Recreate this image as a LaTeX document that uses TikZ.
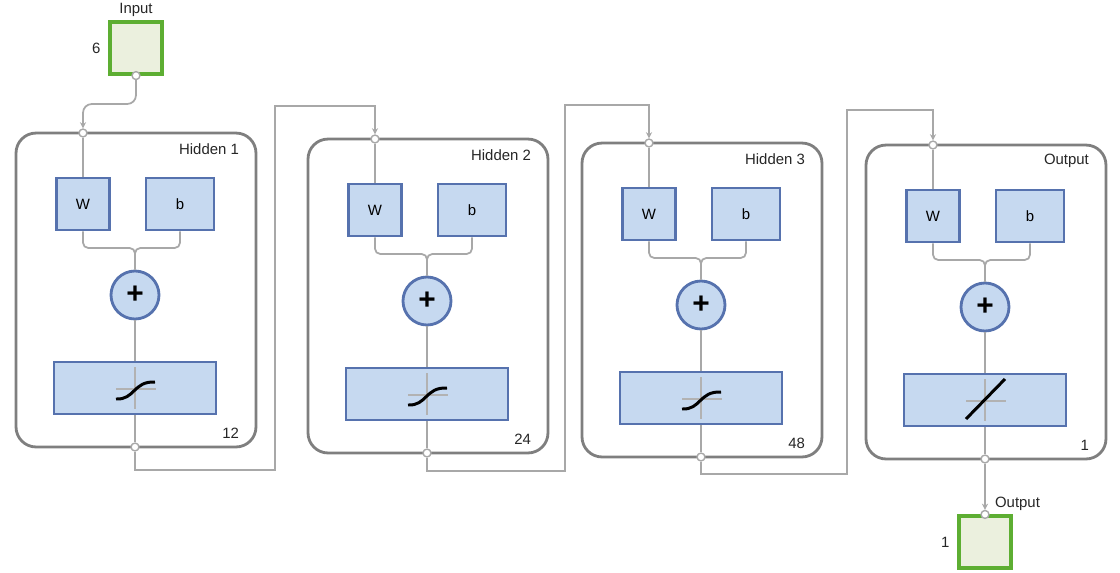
\documentclass[tikz,border=0pt]{standalone}
\usepackage{fontspec}
\setmainfont{Liberation Sans}
\usetikzlibrary{arrows.meta, positioning}

\definecolor{wiregray}{HTML}{A8A8A8}
\definecolor{framegray}{HTML}{7F7F7F}
\definecolor{blockfill}{HTML}{C6D9F0}
\definecolor{blockdraw}{HTML}{5672AE}
\definecolor{iofill}{HTML}{EBF0DE}
\definecolor{iodraw}{HTML}{5DAE32}

\begin{document}
\begin{tikzpicture}[
        x = 0.02cm, y = -0.02cm,
        font = \fontsize{8.5}{10}\selectfont,
        >= {Stealth[length = 3.5pt, width = 3.5pt]},
        layer/.style = {draw = framegray, line width = 1.6pt, fill = white, rounded corners = 0.4cm,
            minimum width = 4.8cm, minimum height = 6.28cm},
        block/.style = {draw = blockdraw, line width = 1.6pt, fill = blockfill, minimum height = 1.04cm},
        sum/.style = {circle, draw = blockdraw, line width = 1.6pt, fill = blockfill, minimum size = 0.96cm,
            inner sep = 0pt, font = \fontsize{17}{17}\selectfont\bfseries},
        io/.style = {draw = iodraw, line width = 1.8pt, fill = iofill, minimum size = 1.04cm},
        wire/.style = {draw = wiregray, line width = 1pt, rounded corners = 3pt},
        link/.style = {draw = wiregray, line width = 1pt},
        port/.style = {circle, draw = wiregray, fill = white, line width = 0.8pt, minimum size = 4.5pt, inner sep = 0pt},
        tag/.style = {inner sep = 1pt, text = black!85}
    ]
    \useasboundingbox (0,0) rectangle (1120,572);

    % input and output boxes
    \node[io] (in) at (136, 48) {};
    \node[tag, above = 0.03cm of in] (in-name) {Input};
    \node[tag, left = 0.12cm of in] (in-size) {6};
    \node[port] (in-port) at (in.south) {};

    \node[io] (out) at (985, 542) {};
    \node[tag, anchor = south west] (out-name) at (993, 513) {Output};
    \node[tag, left = 0.12cm of out] (out-size) {1};
    \node[port] (out-port) at (out.north) {};

    % the four layers
    \foreach \i/\xl/\yt/\name/\num in {1/16/133/Hidden 1/12, 2/308/139/Hidden 2/24,
                                        3/582/143/Hidden 3/48, 4/866/145/Output/1} {
      \node[layer] (L\i) at (\xl+120, \yt+157) {};
      \node[tag, anchor = east] (name\i) at (\xl+225, \yt+16) {\name};
      \node[tag, anchor = east] (num\i) at (\xl+225, \yt+300) {\num};
      \node[port] (top\i) at (\xl+67, \yt) {};
      \node[port] (bot\i) at (\xl+119, \yt+314) {};

      \node[block, minimum width = 1.06cm] (W\i) at (\xl+67, \yt+71) {W};
      \node[block, minimum width = 1.36cm] (b\i) at (\xl+164, \yt+71) {b};
      \node[sum] (sum\i) at (\xl+119, \yt+162) {+};
      \node[block, minimum width = 3.24cm] (tf\i) at (\xl+119, \yt+255) {};

      \draw[wire] (top\i) -- (W\i);
      \draw[wire] (W\i.south) |- (\xl+119, \yt+115) -- (sum\i.north);
      \draw[wire] (b\i.south) |- (\xl+119, \yt+115) -- (sum\i.north);
      \draw[wire] (sum\i) -- (tf\i);
      \draw[wire] (tf\i) -- (bot\i);

      % transfer function
      \draw[draw = black!30, line width = 1.1pt] (\xl+119, \yt+234) -- (\xl+119, \yt+276)
                                                  (\xl+100, \yt+256) -- (\xl+140, \yt+256);
      \ifnum\i<4
        \draw[line width = 1.7pt] (\xl+100, \yt+266) .. controls (\xl+119, \yt+267) and (\xl+117, \yt+248) .. (\xl+139, \yt+249);
      \else
        \draw[line width = 1.7pt] (\xl+100, \yt+274) -- (\xl+139, \yt+234);
      \fi
    }

    % connections
    \draw[link, rounded corners = 5pt, ->] (in-port) |- (top1 |- 0,104) -- (top1);
    \draw[link, ->] (bot1) |- (275, 470) |- (top2 |- 0,106) -- (top2);
    \draw[link, ->] (bot2) |- (565, 471) |- (top3 |- 0,105) -- (top3);
    \draw[link, ->] (bot3) |- (847, 474) |- (top4 |- 0,110) -- (top4);
    \draw[link, ->] (bot4) -- (out-port);
\end{tikzpicture}
\end{document}
